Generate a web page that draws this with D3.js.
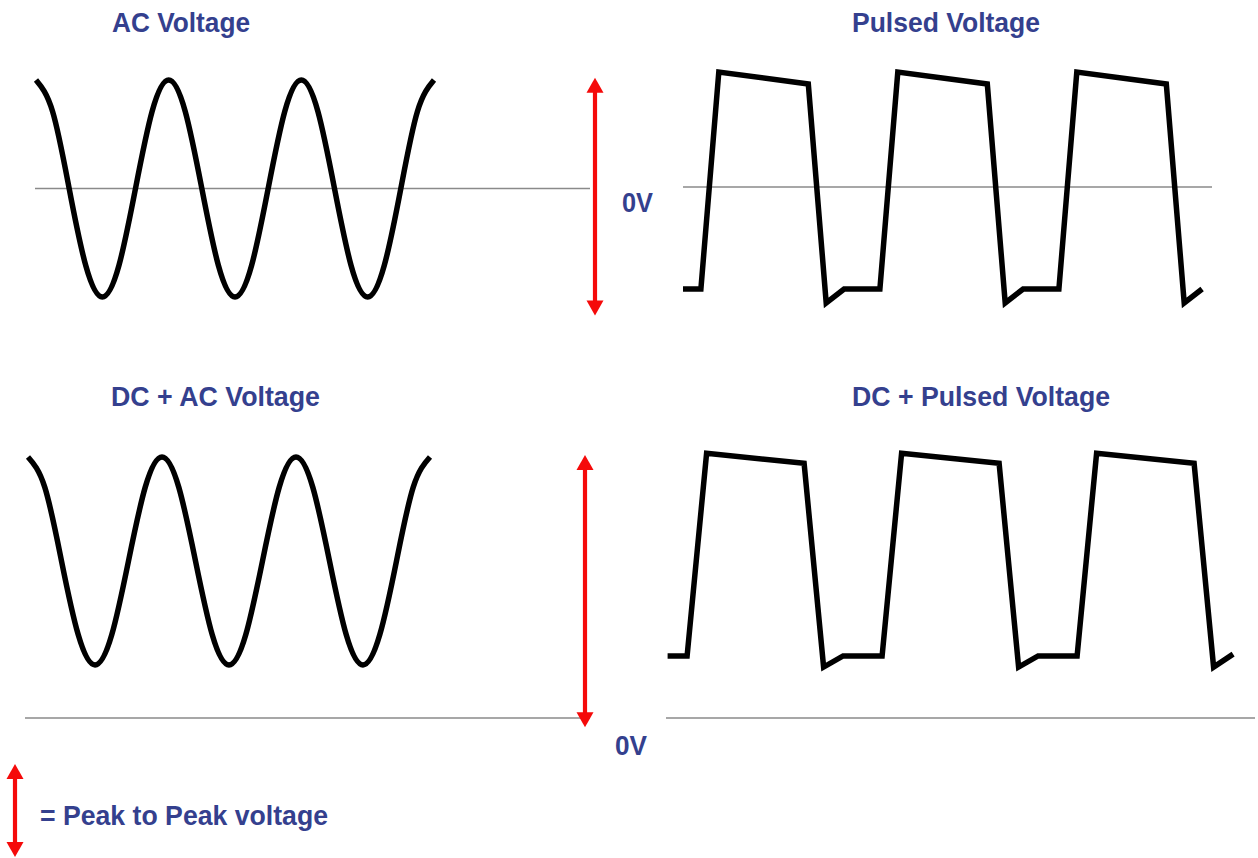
<!DOCTYPE html>
<html>
<head>
<meta charset="utf-8">
<script src="https://cdn.jsdelivr.net/npm/d3@7.9.0/dist/d3.min.js"></script>
<style>
  html, body { margin: 0; padding: 0; background: #fff; }
  svg { display: block; }
  .title { font-family: 'Liberation Sans', Arial, sans-serif; font-weight: bold; fill: #34408e; }
</style>
</head>
<body>
<div id="chart"></div>
<script>
// sine samples, every eighth of a period (t = 0..24), volts
const sineT = d3.range(0, 25);
const acVolts = [1, 0.71, 0, -0.71, -1, -0.71, 0, 0.71, 1, 0.71, 0, -0.71, -1, -0.71, 0, 0.71, 1, 0.71, 0, -0.71, -1, -0.71, 0, 0.71, 1];
const dcAcVolts = [2.51, 2.22, 1.51, 0.8, 0.51, 0.8, 1.51, 2.22, 2.51, 2.22, 1.51, 0.8, 0.51, 0.8, 1.51, 2.22, 2.51, 2.22, 1.51, 0.8, 0.51, 0.8, 1.51, 2.22, 2.51];

// pulse corners (time units, one period = 10)
const pulseT = [0, 1, 2, 7, 8, 9, 11, 12, 17, 18, 19, 21, 22, 27, 28, 29];
const pulseVolts = [-1.02, -1.02, 1.15, 1.03, -1.16, -1.02, -1.02, 1.15, 1.03, -1.16, -1.02, -1.02, 1.15, 1.03, -1.16, -1.02];
const dcPulseVolts = [0.67, 0.67, 2.86, 2.75, 0.55, 0.67, 0.67, 2.86, 2.75, 0.55, 0.67, 0.67, 2.86, 2.75, 0.55, 0.69];

const titles = ['AC Voltage', 'Pulsed Voltage', 'DC + AC Voltage', 'DC + Pulsed Voltage'];
const zeroLabel = '0V';
const legendText = '= Peak to Peak voltage';

const width = 1258;
const height = 858;
const red = '#f50a0a';

const svg = d3.select('#chart').append('svg')
  .attr('width', width)
  .attr('height', height);

// panels: scales map data space to pixels
const panels = [
  { t: sineT, v: acVolts, x: d3.scaleLinear().domain([0, 24]).range([36, 434]),
    y: d3.scaleLinear().domain([0, 1]).range([188.5, 80]), base: [35, 590], curve: d3.curveNatural },
  { t: pulseT, v: pulseVolts, x: d3.scaleLinear().domain([0, 10]).range([683, 862]),
    y: d3.scaleLinear().domain([0, 1]).range([187, 87]), base: [683, 1212], curve: d3.curveLinear },
  { t: sineT, v: dcAcVolts, x: d3.scaleLinear().domain([0, 24]).range([28, 430]),
    y: d3.scaleLinear().domain([0, 1]).range([718, 614]), base: [25, 590], curve: d3.curveNatural },
  { t: pulseT, v: dcPulseVolts, x: d3.scaleLinear().domain([0, 10]).range([667.6, 862.6]),
    y: d3.scaleLinear().domain([0, 1]).range([718, 625.4]), base: [666, 1255], curve: d3.curveLinear },
];

panels.forEach((p) => {
  // 0V line
  svg.append('line')
    .attr('x1', p.base[0]).attr('x2', p.base[1])
    .attr('y1', p.y(0)).attr('y2', p.y(0))
    .attr('stroke', '#8a8a8a')
    .attr('stroke-width', 1.6);

  const line = d3.line()
    .x((d, i) => p.x(p.t[i]))
    .y((d) => p.y(d))
    .curve(p.curve);

  svg.append('path')
    .datum(p.v)
    .attr('d', line)
    .attr('fill', 'none')
    .attr('stroke', '#000')
    .attr('stroke-width', 5.5)
    .attr('stroke-linejoin', 'miter');
});

// titles
const titlePos = [
  { x: 112, y: 32, w: 138 },
  { x: 852, y: 32, w: 188 },
  { x: 111, y: 406, w: 209 },
  { x: 852, y: 406, w: 258 },
];
titles.forEach((t, i) => {
  svg.append('text')
    .attr('class', 'title')
    .attr('x', titlePos[i].x)
    .attr('y', titlePos[i].y)
    .attr('font-size', 27)
    .attr('textLength', titlePos[i].w)
    .attr('lengthAdjust', 'spacingAndGlyphs')
    .text(t);
});

// red peak-to-peak arrows
function arrow(x, y1, y2) {
  const g = svg.append('g');
  const head = 15, half = 8.5;
  g.append('line')
    .attr('x1', x).attr('x2', x)
    .attr('y1', y1 + head - 2).attr('y2', y2 - head + 2)
    .attr('stroke', red).attr('stroke-width', 4.2);
  g.append('path')
    .attr('d', `M${x},${y1}L${x + half},${y1 + head}L${x - half},${y1 + head}Z`)
    .attr('fill', red);
  g.append('path')
    .attr('d', `M${x},${y2}L${x + half},${y2 - head}L${x - half},${y2 - head}Z`)
    .attr('fill', red);
}
arrow(595, panels[0].y(1.02), panels[0].y(-1.17));
arrow(585, panels[2].y(2.53), panels[2].y(-0.09));
arrow(15, 764, 857);

// 0V labels
[{ x: 622, y: 212, w: 31 }, { x: 615, y: 755, w: 32 }].forEach((d) => {
  svg.append('text')
    .attr('class', 'title')
    .attr('x', d.x).attr('y', d.y)
    .attr('font-size', 27)
    .attr('textLength', d.w)
    .attr('lengthAdjust', 'spacingAndGlyphs')
    .text(zeroLabel);
});

// legend
svg.append('text')
  .attr('class', 'title')
  .attr('x', 40).attr('y', 825)
  .attr('font-size', 28)
  .attr('textLength', 288)
  .attr('lengthAdjust', 'spacingAndGlyphs')
  .text(legendText);
</script>
</body>
</html>
